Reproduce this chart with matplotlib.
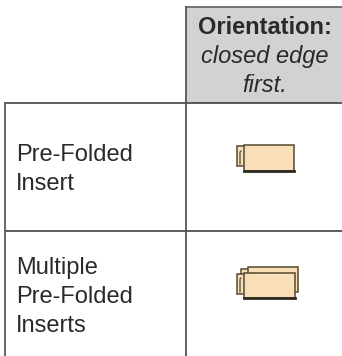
import matplotlib
matplotlib.use("Agg")
import matplotlib.pyplot as plt
from matplotlib.patches import Rectangle

plt.rcParams["font.family"] = ["Liberation Sans", "DejaVu Sans"]

W, H = 342, 356
COL_X = [5, 186, 342]
ROW_Y = [7, 103, 231, 356]

header_bold = "Orientation:"
header_italic = ["closed edge", "first."]
row_labels = [["Pre-Folded", "Insert"], ["Multiple", "Pre-Folded", "Inserts"]]

LINE = "#2f2f31"
TEXT = "#2a2a2c"
PAPER = "#f9dfb8"
EDGE = "#544a30"

fig = plt.figure(figsize=(W / 100, H / 100), dpi=100)
ax = fig.add_axes([0, 0, 1, 1])
ax.set_xlim(0, W)
ax.set_ylim(H, 0)
ax.axis("off")

# header cell
ax.add_patch(Rectangle((COL_X[1], ROW_Y[0]), COL_X[2] - COL_X[1], ROW_Y[1] - ROW_Y[0],
                       facecolor="#d1d2d4", edgecolor="none"))

# grid
ax.plot([COL_X[1], COL_X[2]], [ROW_Y[0], ROW_Y[0]], color="#555557", lw=1.1)
ax.plot([COL_X[0], COL_X[2]], [ROW_Y[1], ROW_Y[1]], color=LINE, lw=1.1)
ax.plot([COL_X[0], COL_X[2]], [ROW_Y[2], ROW_Y[2]], color=LINE, lw=1.1)
ax.plot([COL_X[0], COL_X[0]], [ROW_Y[1], H], color="#666668", lw=1.4)
ax.plot([COL_X[1], COL_X[1]], [ROW_Y[0], H], color="#555557", lw=1.3)

# header text
ax.text(265, 34, header_bold, fontsize=17, fontweight="bold", color=TEXT, ha="center", va="baseline")
for i, line in enumerate(header_italic):
    ax.text(265, 63 + i * 29, line, fontsize=17, style="italic", color=TEXT, ha="center", va="baseline")

# row labels
for lines, y0 in zip(row_labels, [161, 274]):
    for i, line in enumerate(lines):
        ax.text(16, y0 + i * 29, line, fontsize=17, color=TEXT, ha="left", va="baseline")


def sheet(x, y, w, h, shadow=True):
    ax.add_patch(Rectangle((x, y), w, h, facecolor=PAPER, edgecolor=EDGE, lw=1.1))
    if shadow:
        ax.plot([x, x + w], [y + h, y + h], color="#2e2a20", lw=2.0)


# single insert
sheet(237, 146, 8, 20, shadow=False)
ax.plot([241, 240, 240], [151, 152, 164], color=EDGE, lw=0.9)
sheet(244, 145, 50, 26)

# several inserts
sheet(241, 269, 10, 20, shadow=False)
sheet(248, 267, 50, 25, shadow=False)
sheet(237, 274, 8, 20, shadow=False)
ax.plot([241, 240, 240], [278, 279, 292], color=EDGE, lw=0.9)
sheet(244, 273, 51, 25)

fig.savefig("out.png", dpi=100)
plt.close(fig)
